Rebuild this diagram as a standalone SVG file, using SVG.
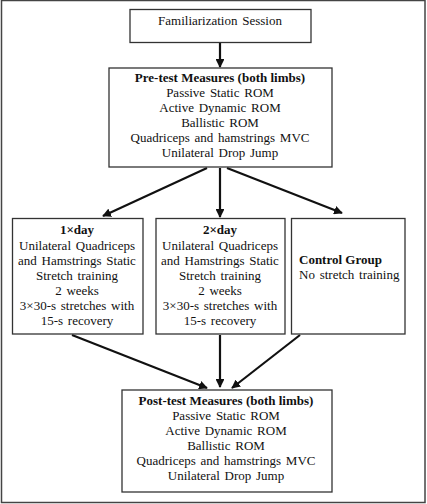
<svg xmlns="http://www.w3.org/2000/svg" width="427" height="504" viewBox="0 0 427 504">
<defs>
<marker id="ah" viewBox="0 0 10 10" refX="9" refY="5" markerWidth="4" markerHeight="4" orient="auto" markerUnits="strokeWidth">
<path d="M0,0 L10,5 L0,10 z" fill="#111"/>
</marker>
<style>
.box{fill:#fff;stroke:#333;stroke-width:1.3}
text{font-family:"Liberation Serif","Times New Roman",serif;font-size:13px;fill:#111;word-spacing:1.5px}
.c{text-anchor:middle}
.b{font-weight:bold;word-spacing:0}
.con{stroke:#111;stroke-width:2.2;fill:none;marker-end:url(#ah)}
</style>
</defs>
<rect x="0" y="0" width="427" height="504" fill="#fff"/>
<rect x="1.5" y="0.5" width="423.5" height="502" fill="none" stroke="#444" stroke-width="1.5"/>
<g id="connectors">
<line class="con" x1="220" y1="43" x2="220" y2="67"/>
<line class="con" x1="207" y1="168" x2="103" y2="216"/>
<line class="con" x1="220" y1="168" x2="220" y2="217"/>
<line class="con" x1="227" y1="168" x2="342" y2="213"/>
<line class="con" x1="72" y1="335" x2="207" y2="388"/>
<line class="con" x1="220" y1="335" x2="220" y2="387"/>
<line class="con" x1="300" y1="335" x2="232" y2="388"/>
</g>
<g id="familiarization">
<rect class="box" x="130" y="9.5" width="181" height="33"/>
<text class="c" x="220" y="25">Familiarization Session</text>
</g>
<g id="pretest">
<rect class="box" x="109" y="68" width="223" height="99"/>
<text class="c b" x="220" y="82">Pre-test Measures (both limbs)</text>
<text class="c" x="220" y="97">Passive Static ROM</text>
<text class="c" x="220" y="112">Active Dynamic ROM</text>
<text class="c" x="220" y="127">Ballistic ROM</text>
<text class="c" x="220" y="142">Quadriceps and hamstrings MVC</text>
<text class="c" x="220" y="157">Unilateral Drop Jump</text>
</g>
<g id="group1">
<rect class="box" x="12.5" y="218.5" width="130.5" height="115.5"/>
<text class="c b" x="77" y="234">1×day</text>
<text class="c" x="77" y="250">Unilateral Quadriceps</text>
<text class="c" x="77" y="265">and Hamstrings Static</text>
<text class="c" x="77" y="280">Stretch training</text>
<text class="c" x="77" y="295">2 weeks</text>
<text class="c" x="77" y="310">3×30-s stretches with</text>
<text class="c" x="77" y="325">15-s recovery</text>
</g>
<g id="group2">
<rect class="box" x="156" y="218.5" width="129" height="115.5"/>
<text class="c b" x="220" y="234">2×day</text>
<text class="c" x="220" y="250">Unilateral Quadriceps</text>
<text class="c" x="220" y="265">and Hamstrings Static</text>
<text class="c" x="220" y="280">Stretch training</text>
<text class="c" x="220" y="295">2 weeks</text>
<text class="c" x="220" y="310">3×30-s stretches with</text>
<text class="c" x="220" y="325">15-s recovery</text>
</g>
<g id="control">
<rect class="box" x="291.5" y="218.5" width="113.5" height="115.5"/>
<text class="b" x="299" y="264">Control Group</text>
<text x="299" y="279">No stretch training</text>
</g>
<g id="posttest">
<rect class="box" x="122" y="390" width="210" height="102"/>
<text class="c b" x="226" y="405">Post-test Measures (both limbs)</text>
<text class="c" x="226" y="420">Passive Static ROM</text>
<text class="c" x="226" y="435">Active Dynamic ROM</text>
<text class="c" x="226" y="450">Ballistic ROM</text>
<text class="c" x="226" y="465">Quadriceps and hamstrings MVC</text>
<text class="c" x="226" y="480">Unilateral Drop Jump</text>
</g>
</svg>
